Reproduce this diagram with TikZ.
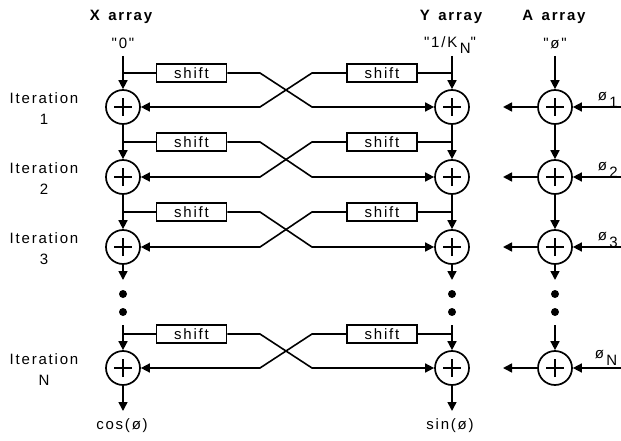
\documentclass[tikz,border=0pt]{standalone}
\usepackage{fontspec}
\setmainfont{Liberation Sans}
\newfontfamily\lbl{Liberation Sans}[LetterSpace=12]
\usetikzlibrary{arrows.meta}
\begin{document}
\begin{tikzpicture}[x=1pt,y=-1pt,line width=1.6pt,
  adder/.style={circle,draw,line width=1.7pt,minimum size=34pt,inner sep=0pt,
    path picture={\draw[line width=1.6pt] ([xshift=-9pt]path picture bounding box.center) -- ([xshift=9pt]path picture bounding box.center)
      ([yshift=-9pt]path picture bounding box.center) -- ([yshift=9pt]path picture bounding box.center);}},
  shiftbox/.style={draw,line width=1.5pt,minimum width=70pt,minimum height=18pt,inner sep=0pt,font=\lbl\fontsize{15}{15}\selectfont},
  lab/.style={font=\lbl\fontsize{15}{21}\selectfont,inner sep=0pt,align=center},
  head/.style={font=\lbl\bfseries\fontsize{15}{15}\selectfont,inner sep=0pt},
  arr/.style={-{Triangle[length=9pt,width=9pt]}},
  bigdot/.style={circle,fill,inner sep=0pt,minimum size=8pt}]
\useasboundingbox (0,0) rectangle (621,441);

% headers
\node[head] (hx) at (121,17) {X\, array};
\node[head] (hy) at (451,17) {Y\, array};
\node[head] (ha) at (554,17) {A\, array};
\node[lab] (in0) at (123,43) {"0"};
\node[lab] (ink) at (450,45) {"1/K\,\raisebox{-6pt}{N}"};
\node[lab] (inp) at (555,43) {"ø"};

% adders
\foreach \r/\ya/\ys/\t in {1/107/73/1,2/177/142/2,3/247/212/3,N/368/334/N}{
  \node[adder] (x\r) at (123,\ya) {};
  \node[adder] (y\r) at (452,\ya) {};
  \node[adder] (a\r) at (555,\ya) {};
  \node[shiftbox] (sx\r) at (191.5,\ys) {shift};
  \node[shiftbox] (sy\r) at (382,\ys) {shift};
  \node[lab] (it\r) at (44,\ya+2) {Iteration\\\t};
  \coordinate (tx\r) at (123,\ys);
  \coordinate (ty\r) at (452,\ys);
  \coordinate (ao\r) at (503,\ya);
  \coordinate (ai\r) at (621,\ya);
  \draw (tx\r) -- (sx\r.west);
  \draw (sy\r.east) -- (ty\r);
  \draw[arr] (sx\r.east) -- (260,\ys) -- (312,\ya) -- (y\r);
  \draw[arr] (sy\r.west) -- (312,\ys) -- (260,\ya) -- (x\r);
  \draw[arr] (a\r) -- (ao\r);
  \draw[arr] (ai\r) -- (a\r);
}

% phi labels
\node[lab,anchor=west] (p1) at (597,100) {ø\,\raisebox{-7pt}{1}};
\node[lab,anchor=west] (p2) at (597,170) {ø\,\raisebox{-7pt}{2}};
\node[lab,anchor=west] (p3) at (597,240) {ø\,\raisebox{-7pt}{3}};
\node[lab,anchor=west] (pN) at (594,358) {ø\,\raisebox{-7pt}{N}};

% top inputs
\coordinate (xt) at (123,56);
\coordinate (yt) at (452,56);
\coordinate (at) at (555,56);
\draw[arr] (xt) -- (x1);
\draw[arr] (yt) -- (y1);
\draw[arr] (at) -- (a1);

% chains
\foreach \c in {x,y,a}{
  \draw[arr] (\c1) -- (\c2);
  \draw[arr] (\c2) -- (\c3);
}
\foreach \c/\xx in {x/123,y/452,a/555}{
  \coordinate (\c e3) at (\xx,280);
  \draw[arr] (\c3) -- (\c e3);
  \node[bigdot] (\c d1) at (\xx,294) {};
  \node[bigdot] (\c d2) at (\xx,312) {};
  \coordinate (\c sN) at (\xx,325);
  \draw[arr] (\c sN) -- (\c N);
}
\coordinate (xo) at (123,411);
\coordinate (yo) at (452,411);
\draw[arr] (xN) -- (xo);
\draw[arr] (yN) -- (yo);
\node[lab] (cosl) at (122,426) {cos(ø)};
\node[lab] (sinl) at (450,426) {sin(ø)};
\end{tikzpicture}
\end{document}
